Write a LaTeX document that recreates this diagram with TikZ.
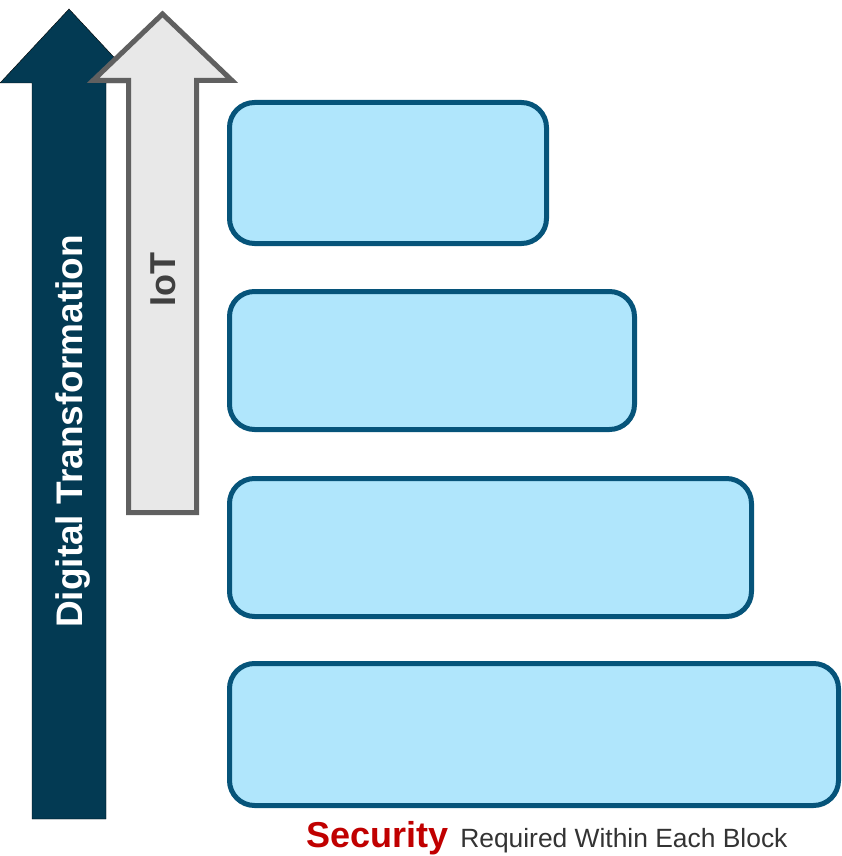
\documentclass[tikz,border=0pt]{standalone}
\usepackage{fontspec}
\setmainfont{Liberation Sans}
\definecolor{dtblue}{HTML}{033A53}
\definecolor{iotfill}{HTML}{E8E8E8}
\definecolor{iotline}{HTML}{606060}
\definecolor{iottext}{HTML}{404040}
\definecolor{blockfill}{HTML}{B0E6FC}
\definecolor{blockline}{HTML}{06547A}
\definecolor{secred}{HTML}{C00000}
\definecolor{captext}{HTML}{333333}
\tikzset{
  block/.style={draw=blockline, line width=5pt, fill=blockfill, rounded corners=25pt},
  bigarrow/.style={fill=dtblue},
  iotarrow/.style={draw=iotline, line width=5pt, fill=iotfill, line join=miter},
}
\begin{document}
\begin{tikzpicture}[x=1pt,y=-1pt]
\useasboundingbox (0,0) rectangle (841,856);

% Digital Transformation arrow
\draw[bigarrow] (69,9) -- (138,83) -- (106,83) -- (106,819) -- (32,819) -- (32,83) -- (0,83) -- cycle;
\node[rotate=90, anchor=base, text=white, font=\bfseries\fontsize{37}{40}\selectfont, inner sep=0pt]
  (dt) at (82,431.5) {Digital Transformation};

% IoT arrow
\draw[iotarrow] (162.5,14) -- (232,80.5) -- (196.5,80.5) -- (196.5,512.5) -- (128.5,512.5) -- (128.5,80.5) -- (93,80.5) -- cycle;
\node[rotate=90, anchor=base, text=iottext, font=\bfseries\fontsize{36}{40}\selectfont, inner sep=0pt]
  (iot) at (175.5,279.5) {IoT};

% Blocks
\draw[block] (229.5,102.5) rectangle (546.5,243.5);
\draw[block] (229.5,291.5) rectangle (634.5,429.5);
\draw[block] (229.5,478.5) rectangle (751.5,616.5);
\draw[block] (229.5,663.5) rectangle (838.5,805.5);

% Caption
\node[anchor=base west, inner sep=0pt] (cap) at (306,847)
  {\textcolor{secred}{\bfseries\fontsize{36}{40}\selectfont Security}\hspace{12pt}\textcolor{captext}{\fontsize{26.4}{30}\selectfont Required Within Each Block}};
\end{tikzpicture}
\end{document}
